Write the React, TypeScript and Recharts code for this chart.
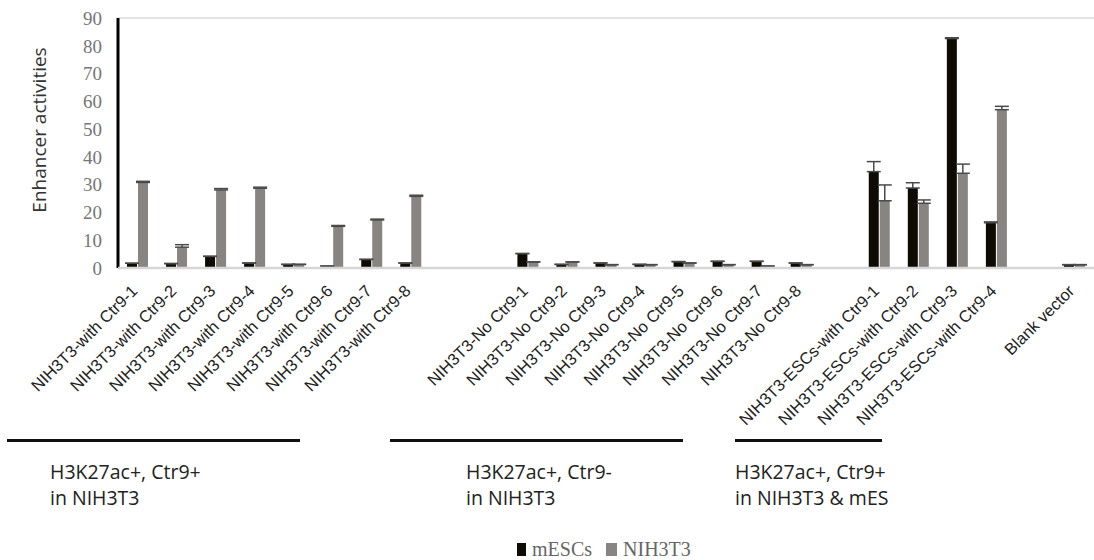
import React from 'react';
import { BarChart, Bar, XAxis, YAxis, CartesianGrid, Legend, ErrorBar } from 'recharts';

const categories = [
  'NIH3T3-with Ctr9-1', 'NIH3T3-with Ctr9-2', 'NIH3T3-with Ctr9-3', 'NIH3T3-with Ctr9-4',
  'NIH3T3-with Ctr9-5', 'NIH3T3-with Ctr9-6', 'NIH3T3-with Ctr9-7', 'NIH3T3-with Ctr9-8',
  '', '',
  'NIH3T3-No Ctr9-1', 'NIH3T3-No Ctr9-2', 'NIH3T3-No Ctr9-3', 'NIH3T3-No Ctr9-4',
  'NIH3T3-No Ctr9-5', 'NIH3T3-No Ctr9-6', 'NIH3T3-No Ctr9-7', 'NIH3T3-No Ctr9-8',
  '',
  'NIH3T3-ESCs-with Ctr9-1', 'NIH3T3-ESCs-with Ctr9-2', 'NIH3T3-ESCs-with Ctr9-3', 'NIH3T3-ESCs-with Ctr9-4',
  '',
  'Blank vector',
];

const mESCs = [1.7, 1.6, 4.2, 1.8, 1.3, 0.7, 3.1, 1.8, null, null, 5.2, 1.3, 1.8, 1.3, 2.3, 2.4, 2.4, 1.8, null, 34.7, 28.8, 82.6, 16.3, null, 1.2];
const NIH3T3 = [30.8, 7.5, 28.1, 28.7, 1.3, 15.0, 17.3, 25.8, null, null, 2.2, 2.2, 1.2, 1.2, 1.8, 1.2, 0.7, 1.2, null, 24.2, 23.3, 34.1, 57.0, null, 1.2];
const mESCsErr = [0, 0, 0, 0, 0, 0, 0, 0, null, null, 0, 0, 0, 0, 0, 0, 0, 0, null, 3.6, 1.9, 0.3, 0.3, null, 0];
const NIH3T3Err = [0.4, 0.9, 0.5, 0.4, 0, 0.3, 0.3, 0.4, null, null, 0, 0, 0, 0, 0, 0, 0, 0, null, 5.7, 1.2, 3.3, 1.2, null, 0];

const yTicks = [0, 10, 20, 30, 40, 50, 60, 70, 80, 90];
const gridTicks = [0, 10, 20, 30, 40, 50, 60, 70, 80];

const groups = [
  { line1: 'H3K27ac+, Ctr9+', line2: 'in NIH3T3' },
  { line1: 'H3K27ac+, Ctr9-', line2: 'in NIH3T3' },
  { line1: 'H3K27ac+, Ctr9+', line2: 'in NIH3T3 & mES' },
];

const data = categories.map((name, i) => ({
  name,
  mESCs: mESCs[i],
  NIH3T3: NIH3T3[i],
  errM: mESCsErr[i] == null ? null : [0, mESCsErr[i]],
  errN: NIH3T3Err[i] == null ? null : [0, NIH3T3Err[i]],
}));

const BLACK = '#0e0b05';
const GREY = '#878482';

const XTick = (props: any) => {
  const { x, y, payload } = props;
  if (!payload || !payload.value) return <g />;
  const x0 = x + 1;
  const y0 = y + 24;
  return (
    <text
      x={x0}
      y={y0}
      transform={`rotate(-45, ${x0}, ${y0})`}
      textAnchor="end"
      fontFamily="'Liberation Sans', Arial, sans-serif"
      fontSize={16.5}
      fill="#222"
    >
      {payload.value}
    </text>
  );
};

const LegendContent = () => (
  <div
    style={{
      display: 'flex',
      justifyContent: 'flex-start',
      alignItems: 'center',
      fontFamily: "'Liberation Serif', 'Times New Roman', serif",
      fontSize: 20,
      color: '#666',
      height: 22,
      whiteSpace: 'nowrap',
    }}
  >
    <span style={{ display: 'inline-block', width: 9, height: 13, background: BLACK, marginRight: 6 }} />
    <span style={{ marginRight: 14 }}>mESCs</span>
    <span style={{ display: 'inline-block', width: 11, height: 13, background: GREY, marginRight: 6 }} />
    <span>NIH3T3</span>
  </div>
);

const YLabel = () => (
  <text
    x={46}
    y={130}
    transform="rotate(-90, 46, 130)"
    textAnchor="middle"
    fontFamily="'Open Sans', sans-serif"
    fontSize={19}
    fill="#333"
  >
    Enhancer activities
  </text>
);

const annotationLines = [
  { left: 7, width: 293 },
  { left: 390, width: 293 },
  { left: 735, width: 147 },
];
const annotationText = [50, 466, 735];

export default function App() {
  return (
    <div style={{ position: 'absolute', left: 0, top: 0, width: 1094, height: 560, background: '#fff' }}>
      <BarChart
        width={1094}
        height={560}
        data={data}
        margin={{ top: 18, right: 0, bottom: 0, left: 0 }}
        barGap={1}
        barSize={10}
      >
        <CartesianGrid yAxisId="grid" vertical={false} stroke="#dadada" strokeWidth={1.5} />
        <YAxis
          yAxisId="val"
          domain={[0, 90]}
          ticks={yTicks}
          width={118}
          axisLine={{ stroke: '#000', strokeWidth: 3 }}
          tickLine={false}
          tickSize={0}
          tickMargin={16}
          tick={{ fontFamily: 'Liberation Serif, serif', fontSize: 19, fill: '#767676' }}
          interval={0}
          label={<YLabel />}
        />
        <YAxis yAxisId="grid" domain={[0, 80]} ticks={gridTicks} width={0} hide />
        <XAxis
          dataKey="name"
          height={292}
          interval={0}
          tickLine={false}
          tickSize={0}
          tickMargin={0}
          axisLine={{ stroke: '#d6d6d6', strokeWidth: 2.5 }}
          tick={<XTick />}
        />
        <Legend
          verticalAlign="middle"
          align="center"
          layout="horizontal"
          wrapperStyle={{ position: 'absolute', top: 538, left: 517, width: 200, height: 22 }}
          content={<LegendContent />}
        />
        <Bar dataKey="mESCs" name="mESCs" yAxisId="val" fill={BLACK} isAnimationActive={false}>
          <ErrorBar dataKey="errM" width={7} stroke="#4a4a4a" strokeWidth={1.5} direction="y" isAnimationActive={false} />
        </Bar>
        <Bar dataKey="NIH3T3" name="NIH3T3" yAxisId="val" fill={GREY} isAnimationActive={false}>
          <ErrorBar dataKey="errN" width={7} stroke="#4a4a4a" strokeWidth={1.5} direction="y" isAnimationActive={false} />
        </Bar>
      </BarChart>
      {annotationLines.map((l, i) => (
        <div
          key={'l' + i}
          style={{ position: 'absolute', left: l.left, top: 439, width: l.width, height: 3, background: '#111' }}
        />
      ))}
      {groups.map((g, i) => (
        <div
          key={'g' + i}
          style={{
            position: 'absolute',
            left: annotationText[i],
            top: 459,
            fontFamily: "'Open Sans', sans-serif",
            fontSize: 19.5,
            lineHeight: '26px',
            color: '#222',
            whiteSpace: 'nowrap',
          }}
        >
          <div>{g.line1}</div>
          <div>{g.line2}</div>
        </div>
      ))}
    </div>
  );
}
